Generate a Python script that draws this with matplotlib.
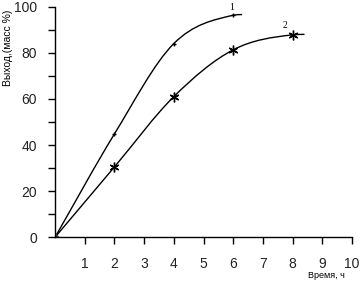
import numpy as np
import matplotlib
matplotlib.use("Agg")
import matplotlib.pyplot as plt
from matplotlib.path import Path
from matplotlib.patches import PathPatch

# Data
x1 = [0, 2, 4, 6, 6.3]
y1 = [0, 44.8, 84, 96.3, 96.6]
x2 = [0, 2, 4, 6, 8, 8.4]
y2 = [0, 30.5, 61, 81.3, 87.8, 88.0]
mark1 = [1, 2, 3]
mark2 = [1, 2, 3, 4]
curve_labels = ["1", "2"]
label_pos = [(5.95, 97.8), (7.75, 89.8)]
xticks = [1, 2, 3, 4, 5, 6, 7, 8, 9, 10]
yticks = [0, 20, 40, 60, 80, 100]
yminor = [10, 30, 50, 70, 90]

plt.rcParams['font.family'] = ['Liberation Sans', 'DejaVu Sans']

fig = plt.figure(figsize=(3.61, 2.82), dpi=100)
ax = fig.add_axes([55/361, 44.7/282, (352-55)/361, (237.3-6.7)/282])


def smooth_path(xs, ys):
    """Cardinal-style cubic through the points, drawn as a Bezier path."""
    x = np.asarray(xs, float)
    y = np.asarray(ys, float)
    n = len(x)
    h = np.diff(x)
    d = np.diff(y) / h
    m = np.zeros(n)
    m[0] = d[0]
    m[-1] = d[-1]
    for i in range(1, n - 1):
        m[i] = (y[i + 1] - y[i - 1]) / (x[i + 1] - x[i - 1])
        lim = 3 * min(abs(d[i - 1]), abs(d[i]))
        m[i] = np.sign(m[i]) * min(abs(m[i]), lim)
    verts = [(x[0], y[0])]
    codes = [Path.MOVETO]
    for i in range(n - 1):
        verts += [(x[i] + h[i] / 3, y[i] + m[i] * h[i] / 3),
                  (x[i + 1] - h[i] / 3, y[i + 1] - m[i + 1] * h[i] / 3),
                  (x[i + 1], y[i + 1])]
        codes += [Path.CURVE4] * 3
    return Path(verts, codes)


for xs, ys in [(x1, y1), (x2, y2)]:
    ax.add_patch(PathPatch(smooth_path(xs, ys), facecolor='none',
                           edgecolor='black', lw=1.0))

ax.plot([x1[i] for i in mark1], [y1[i] for i in mark1], ls='none',
        marker='+', ms=3.5, mew=1.0, color='black')
ax.plot([x2[i] for i in mark2], [y2[i] for i in mark2], ls='none',
        marker=(6, 2, 0), ms=7, mew=1.0, color='black')
ax.plot([x1[0]], [y1[0]], ls='none', marker='D', ms=3.5, color='#334455')

for lab, (lx, ly) in zip(curve_labels, label_pos):
    ax.text(lx, ly, lab, fontsize=7, family=['Liberation Serif'],
            ha='center', va='bottom')

ax.set_xlim(0, 10)
ax.set_ylim(0, 100)
ax.set_xticks(xticks)
ax.set_xticklabels([str(v) for v in xticks])
ax.set_yticks(yticks)
ax.set_yticklabels([str(v) for v in yticks])
ax.set_yticks(yminor, minor=True)
for s in ['top', 'right']:
    ax.spines[s].set_visible(False)
for s in ['left', 'bottom']:
    ax.spines[s].set_linewidth(1.0)
ax.tick_params(axis='x', direction='out', length=5, width=1, pad=9,
               labelsize=10, colors='black')
ax.tick_params(axis='y', which='both', direction='out', length=5, width=1,
               pad=8, labelsize=10, colors='black')
for lab in ax.get_xticklabels() + ax.get_yticklabels():
    lab.set_color('#222222')

fig.text(8/361, 1 - 48/282, "Выход,(масс %)", rotation=90, fontsize=7.5,
         ha='center', va='center')
fig.text(326/361, 1 - 276/282, "Время, ч", fontsize=6.5,
         ha='center', va='center')

fig.savefig("out.png", dpi=100)
